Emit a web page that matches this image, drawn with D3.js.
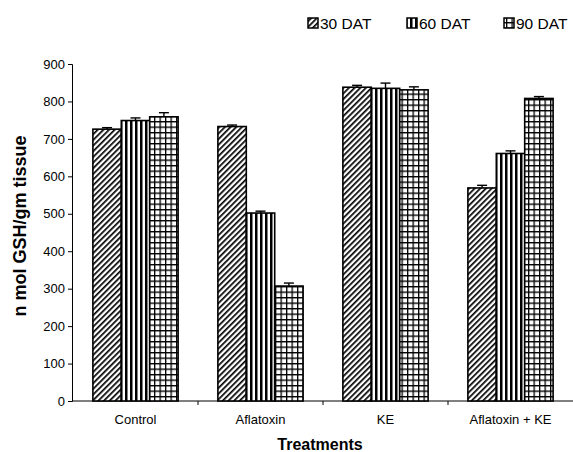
<!DOCTYPE html>
<html>
<head>
<meta charset="utf-8">
<script src="https://cdn.jsdelivr.net/npm/d3@7"></script>
<style>
  body { margin: 0; background: #fff; }
  text { font-family: "Liberation Sans", Arial, sans-serif; fill: #000; }
</style>
</head>
<body>
<div id="chart"></div>
<script>
// data
var treatments = ["Control", "Aflatoxin", "KE", "Aflatoxin + KE"]
var series = ["30 DAT", "60 DAT", "90 DAT"]
var dat30 = [726, 733, 838, 569]
var dat60 = [749, 502, 835, 661]
var dat90 = [759, 307, 831, 808]
var err30 = [4, 4, 5, 7]
var err60 = [7, 5, 14, 7]
var err90 = [11, 8, 8, 5]
var yTicks = [0, 100, 200, 300, 400, 500, 600, 700, 800, 900]

var values = [dat30, dat60, dat90]
var errors = [err30, err60, err90]
var data = []
treatments.forEach(function (t, i) {
    series.forEach(function (s, j) {
        data.push({ treatment: t, series: s, value: values[j][i], err: errors[j][i], k: j })
    })
})

var W = 573, H = 452
var svg = d3.select("#chart").append("svg")
    .attr("width", W).attr("height", H)

// fill patterns, one per series
var defs = svg.append("defs")
var p1 = defs.append("pattern").attr("id", "pat0")
    .attr("patternUnits", "userSpaceOnUse").attr("width", 4).attr("height", 4)
    .attr("patternTransform", "rotate(45)")
p1.append("rect").attr("width", 4).attr("height", 4).attr("fill", "#fff")
p1.append("line").attr("x1", 0).attr("y1", 0).attr("x2", 0).attr("y2", 4)
    .attr("stroke", "#000").attr("stroke-width", 3.4)

var p2 = defs.append("pattern").attr("id", "pat1")
    .attr("patternUnits", "userSpaceOnUse").attr("width", 5).attr("height", 5)
p2.append("rect").attr("width", 5).attr("height", 5).attr("fill", "#fff")
p2.append("rect").attr("x", 0).attr("width", 2.5).attr("height", 5).attr("fill", "#000")

var p3 = defs.append("pattern").attr("id", "pat2")
    .attr("patternUnits", "userSpaceOnUse").attr("width", 5.5).attr("height", 5.5)
p3.append("rect").attr("width", 5.5).attr("height", 5.5).attr("fill", "#fff")
p3.append("path").attr("d", "M0,0H5.5M0,0V5.5")
    .attr("stroke", "#000").attr("stroke-width", 2.6).attr("fill", "none")

// scales
var x0 = d3.scaleBand().domain(treatments).range([73, 573]).padding(0)
var x1 = d3.scaleBand().domain(series).range([0, x0.bandwidth()])
    .paddingInner(0).paddingOuter(0.7)
var y = d3.scaleLinear().domain([0, 900]).range([401, 64])

// y axis
svg.append("g")
    .attr("transform", "translate(72,0)")
    .call(d3.axisLeft(y).tickValues(yTicks).tickSize(4).tickPadding(3))
    .call(function (g) {
        g.select(".domain").attr("stroke", "#000").attr("stroke-width", 1)
        g.selectAll("text").style("font-size", "13px").style("font-family", "Liberation Sans, Arial, sans-serif")
    })

// x axis, ticks at category boundaries
var xa = svg.append("g").attr("transform", "translate(0,401)")
xa.append("line").attr("x1", 72).attr("x2", 573).attr("stroke", "#000")
xa.selectAll(".tk").data(treatments.slice(1)).enter().append("line")
    .attr("x1", function (d) { return x0(d) }).attr("x2", function (d) { return x0(d) })
    .attr("y1", 0).attr("y2", 4).attr("stroke", "#000")
xa.selectAll(".lb").data(treatments).enter().append("text")
    .attr("x", function (d) { return x0(d) + x0.bandwidth() / 2 })
    .attr("y", 23)
    .attr("text-anchor", "middle")
    .style("font-size", "13px")
    .text(function (d) { return d })

// bars
var bars = svg.append("g")
bars.selectAll("rect").data(data).enter().append("rect")
    .attr("x", function (d) { return x0(d.treatment) + x1(d.series) })
    .attr("y", function (d) { return y(d.value) })
    .attr("width", x1.bandwidth())
    .attr("height", function (d) { return y(0) - y(d.value) })
    .attr("fill", function (d) { return "url(#pat" + d.k + ")" })
    .attr("stroke", "#000").attr("stroke-width", 1.6)

// error bars
var eb = svg.append("g").attr("stroke", "#000").attr("stroke-width", 1.4)
eb.selectAll(".v").data(data).enter().append("line")
    .attr("x1", function (d) { return x0(d.treatment) + x1(d.series) + x1.bandwidth() / 2 })
    .attr("x2", function (d) { return x0(d.treatment) + x1(d.series) + x1.bandwidth() / 2 })
    .attr("y1", function (d) { return y(d.value) })
    .attr("y2", function (d) { return y(d.value + d.err) })
eb.selectAll(".h").data(data).enter().append("line")
    .attr("x1", function (d) { return x0(d.treatment) + x1(d.series) + x1.bandwidth() / 2 - 5 })
    .attr("x2", function (d) { return x0(d.treatment) + x1(d.series) + x1.bandwidth() / 2 + 5 })
    .attr("y1", function (d) { return y(d.value + d.err) })
    .attr("y2", function (d) { return y(d.value + d.err) })

// legend
var legX = [308, 407, 504]
var leg = svg.append("g")
leg.selectAll("rect").data(series).enter().append("rect")
    .attr("x", function (d, i) { return legX[i] }).attr("y", 18)
    .attr("width", 10).attr("height", 10)
    .attr("fill", function (d, i) { return "url(#pat" + i + ")" })
    .attr("stroke", "#000").attr("stroke-width", 1.5)
leg.selectAll("text").data(series).enter().append("text")
    .attr("x", function (d, i) { return legX[i] + 12 }).attr("y", 29)
    .style("font-size", "15.5px")
    .text(function (d) { return d })

// axis titles
svg.append("text")
    .attr("x", 320).attr("y", 450)
    .attr("text-anchor", "middle")
    .style("font-size", "16px").style("font-weight", "bold")
    .text("Treatments")
svg.append("text")
    .attr("transform", "translate(26,226) rotate(-90)")
    .attr("text-anchor", "middle")
    .style("font-size", "18px").style("font-weight", "bold")
    .text("n mol GSH/gm tissue")
</script>
</body>
</html>
